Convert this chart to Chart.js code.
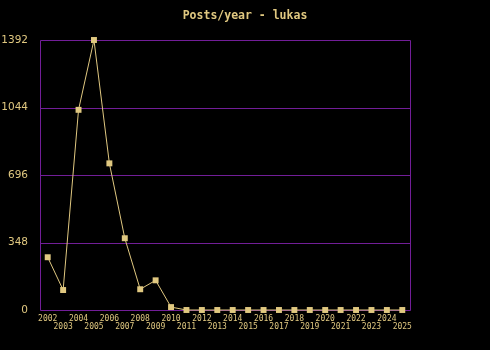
<!DOCTYPE html>
<html>
<head>
<meta charset="utf-8">
<title>Posts/year - lukas</title>
<script src="https://cdn.jsdelivr.net/npm/chart.js@4/dist/chart.umd.min.js"></script>
<style>
    html, body { margin: 0; padding: 0; background: #000; }
    #wrap { width: 490px; height: 350px; }
</style>
</head>
<body>
<div id="wrap"><canvas id="myChart" width="490" height="350"></canvas></div>
<script>
const years = ['2002', '2003', '2004', '2005', '2006', '2007', '2008', '2009', '2010', '2011', '2012', '2013',
    '2014', '2015', '2016', '2017', '2018', '2019', '2020', '2021', '2022', '2023', '2024', '2025'];
const posts = [272, 103, 1032, 1392, 756, 370, 107, 153, 15, 0, 0, 0, 0, 0, 0, 0, 0, 0, 0, 0, 0, 0, 0, 0];
const yTicks = [0, 348, 696, 1044, 1392];
const titleText = 'Posts/year - lukas';

const tan = 'rgb(224, 200, 128)';
const purple = '#721e98';

// black background, centred title, crisp purple grid + frame
const frame = {
    id: 'frame',
    beforeDraw(chart) {
        const ctx = chart.ctx;
        ctx.save();
        ctx.fillStyle = '#000';
        ctx.fillRect(0, 0, chart.width, chart.height);
        ctx.fillStyle = tan;
        ctx.font = 'bold 11.5px "DejaVu Sans Mono"';
        ctx.textAlign = 'center';
        ctx.textBaseline = 'middle';
        ctx.fillText(titleText, chart.width / 2, 16);
        ctx.restore();
    },
    beforeDatasetsDraw(chart) {
        const a = chart.chartArea;
        const ys = chart.scales.y;
        const ctx = chart.ctx;
        const l = Math.round(a.left) + 0.5;
        const r = Math.round(a.right) + 0.5;
        ctx.save();
        ctx.strokeStyle = purple;
        ctx.lineWidth = 1;
        ctx.beginPath();
        yTicks.forEach(v => {
            const y = Math.round(ys.getPixelForValue(v)) + 0.5;
            ctx.moveTo(l, y);
            ctx.lineTo(r, y);
        });
        ctx.moveTo(l, Math.round(a.top) + 0.5);
        ctx.lineTo(l, Math.round(a.bottom) + 0.5);
        ctx.moveTo(r, Math.round(a.top) + 0.5);
        ctx.lineTo(r, Math.round(a.bottom) + 0.5);
        ctx.stroke();
        ctx.restore();
    }
};

const canvas = document.getElementById('myChart');
new Chart(canvas, {
    type: 'line',
    data: {
        labels: years,
        datasets: [{
            label: 'Posts',
            data: posts,
            borderColor: tan,
            borderWidth: 1,
            pointStyle: 'rect',
            pointRadius: 4.2,
            pointBorderWidth: 0,
            pointBackgroundColor: tan,
            tension: 0,
            clip: false
        }]
    },
    options: {
        responsive: false,
        animation: false,
        layout: { padding: { top: 40, right: 80, left: 0, bottom: 0 } },
        plugins: {
            legend: { display: false },
            tooltip: { enabled: false },
            title: { display: false }
        },
        scales: {
            x: {
                offset: true,
                grid: { display: false, drawTicks: false },
                border: { display: false },
                ticks: {
                    color: tan,
                    autoSkip: false,
                    maxRotation: 0,
                    padding: 5,
                    font: { family: 'DejaVu Sans Mono', size: 8, lineHeight: 1 },
                    callback: function (value, index) {
                        const label = years[index];
                        return index % 2 === 0 ? [label, ''] : ['', label];
                    }
                },
                afterFit: function (scale) { scale.height = 40; }
            },
            y: {
                min: 0,
                max: 1392,
                grid: { display: false, drawTicks: false },
                border: { display: false },
                afterBuildTicks: function (scale) {
                    scale.ticks = yTicks.map(v => ({ value: v }));
                },
                ticks: {
                    color: tan,
                    padding: 12,
                    font: { family: 'DejaVu Sans', size: 10.5 },
                    callback: function (value) { return String(value); }
                },
                afterFit: function (scale) { scale.width = 40; }
            }
        }
    },
    plugins: [frame]
});
</script>
</body>
</html>
